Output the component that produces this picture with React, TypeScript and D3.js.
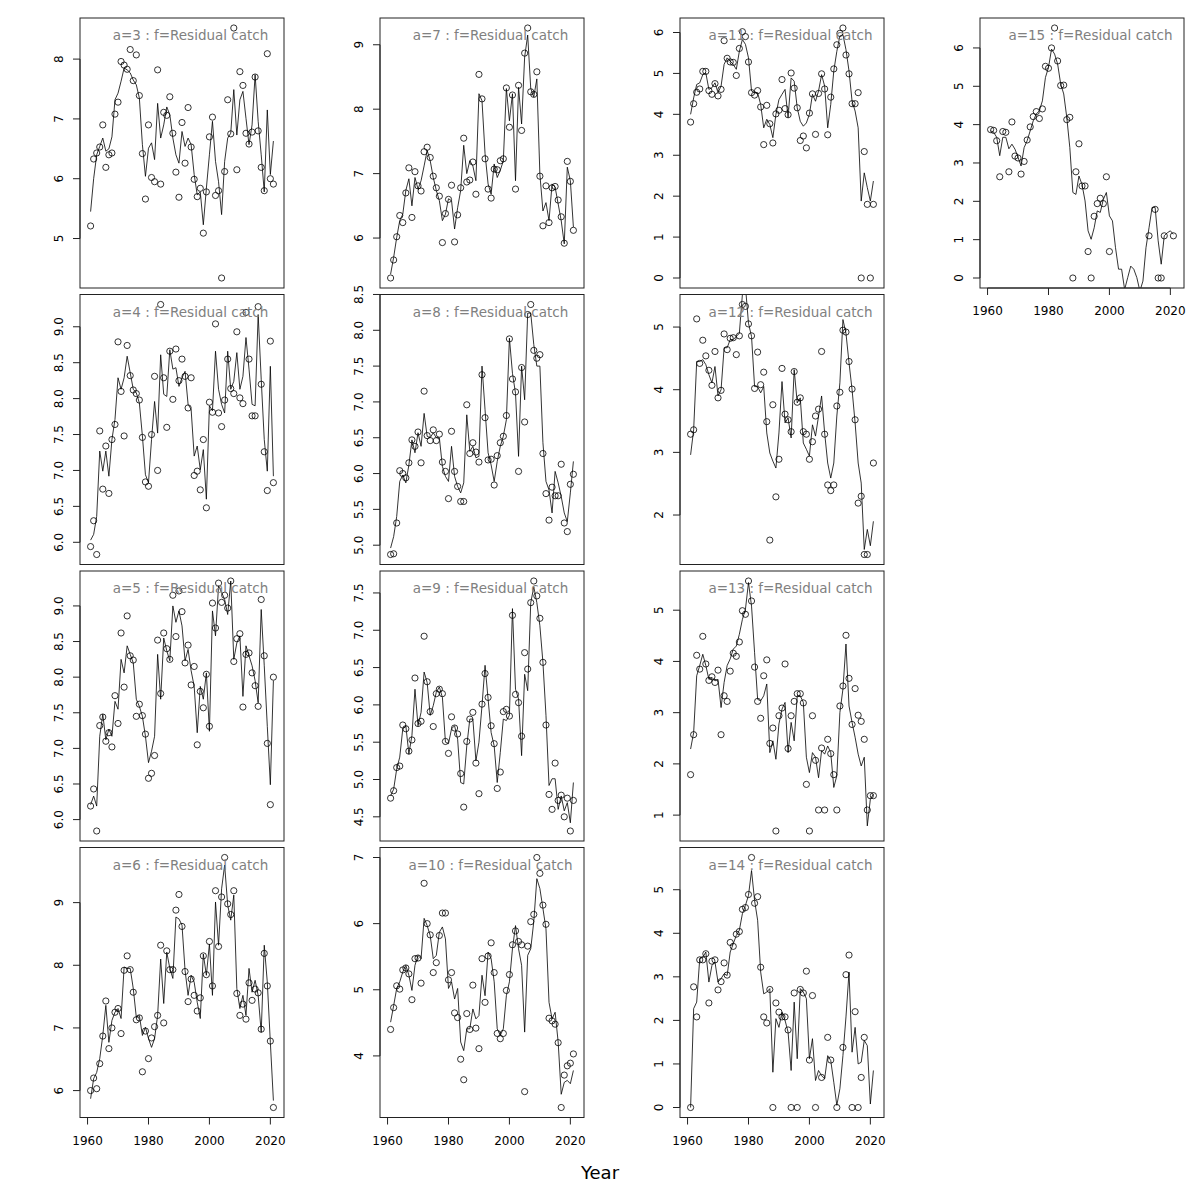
import * as d3 from "d3";

const YEARS: number[] = d3.range(1961, 2022);
const X_LIM: [number, number] = [1957.52, 2024.48];
const X_TICKS = [1960, 1980, 2000, 2020];

// observed residual catch (points) and fitted values (line) per age, 1961-2021
const obs3 = [5.21, 6.33, 6.43, 6.53, 6.9, 6.19, 6.4, 6.43, 7.08, 7.28,
  7.96, 7.9, 7.83, 8.16, 7.64, 8.07, 7.39, 6.42, 5.66, 6.9,
  6.02, 5.95, 7.82, 5.91, 7.11, 7.06, 7.37, 6.76, 6.11, 5.69,
  6.94, 6.26, 7.19, 6.53, 5.99, 5.7, 5.84, 5.09, 5.78, 6.7,
  7.03, 5.72, 5.8, 4.34, 6.12, 7.32, 6.75, 8.52, 6.15, 7.79,
  7.56, 6.76, 6.58, 6.78, 7.7, 6.8, 6.19, 5.8, 8.09, 6.0,
  5.91];
const fit3 = [5.45, 6.0, 6.4, 6.54, 6.68, 6.46, 6.5, 6.7, 7.32, 7.43,
  7.63, 7.85, 7.82, 7.77, 7.65, 7.57, 7.35, 6.57, 6.04, 6.51,
  6.6, 6.32, 7.26, 6.68, 6.9, 7.2, 7.07, 6.68, 6.4, 6.26,
  6.79, 6.54, 6.68, 6.57, 6.07, 5.73, 5.78, 5.23, 5.84, 6.4,
  6.96, 6.29, 5.95, 5.4, 6.29, 6.68, 6.76, 7.49, 6.73, 7.32,
  7.46, 7.01, 6.57, 6.9, 7.74, 6.96, 6.4, 5.78, 7.15, 6.07,
  6.63];

const obs4 = [5.94, 6.3, 5.83, 7.55, 6.74, 7.34, 6.68, 7.43, 7.64, 8.79,
  8.1, 7.48, 8.74, 8.32, 8.12, 8.07, 7.98, 7.46, 6.84, 6.78,
  7.5, 8.31, 7.0, 9.31, 8.29, 7.6, 8.66, 7.99, 8.69, 8.25,
  8.55, 8.31, 7.87, 8.29, 6.93, 6.99, 6.73, 7.43, 6.48, 7.95,
  7.81, 9.04, 7.8, 7.61, 7.98, 8.55, 8.14, 8.07, 8.93, 8.01,
  7.93, 9.2, 8.55, 7.76, 7.76, 9.28, 8.2, 7.26, 6.72, 8.8,
  6.83];
const fit4 = [6.03, 6.11, 6.36, 7.27, 6.99, 7.27, 6.92, 7.43, 7.71, 8.29,
  8.13, 8.29, 8.59, 8.36, 8.13, 8.08, 7.94, 7.48, 6.94, 6.83,
  7.43, 7.96, 7.52, 8.61, 8.06, 8.03, 8.68, 8.41, 8.43, 8.17,
  8.29, 8.38, 7.92, 7.85, 7.2, 7.34, 7.01, 7.29, 6.6, 7.9,
  7.83, 8.66, 8.13, 7.92, 7.8, 8.66, 8.13, 8.24, 8.64, 8.13,
  8.31, 8.85, 8.41, 7.92, 7.9, 9.17, 8.27, 7.43, 6.99, 8.45,
  6.92];

const obs5 = [6.19, 6.43, 5.84, 7.32, 7.44, 7.1, 7.22, 7.02, 7.74, 7.35,
  8.62, 7.86, 8.86, 8.3, 8.24, 7.45, 7.62, 7.46, 7.2, 6.58,
  6.65, 6.9, 8.52, 7.77, 8.62, 8.4, 8.25, 9.15, 8.57, 9.21,
  8.92, 8.2, 8.45, 7.89, 8.15, 7.05, 7.8, 7.57, 8.04, 7.31,
  9.04, 8.69, 9.32, 9.05, 9.15, 8.97, 9.35, 8.22, 8.54, 8.61,
  7.58, 8.32, 8.34, 8.06, 7.88, 7.59, 9.09, 8.3, 7.07, 6.21,
  8.0];
const fit5 = [6.21, 6.33, 6.19, 7.17, 7.48, 7.12, 7.27, 7.17, 7.66, 7.55,
  8.25, 8.06, 8.44, 8.32, 8.2, 7.69, 7.59, 7.45, 7.17, 6.8,
  6.96, 7.17, 8.32, 7.69, 8.55, 8.37, 8.23, 9.0, 8.77, 8.93,
  8.72, 8.23, 8.39, 8.09, 7.87, 7.22, 7.87, 7.69, 8.06, 7.24,
  8.93, 8.58, 9.28, 9.19, 9.09, 8.88, 9.35, 8.25, 8.48, 8.58,
  7.73, 8.44, 8.3, 8.16, 7.95, 7.64, 8.95, 8.16, 7.31, 6.49,
  7.95];

const obs6 = [6.0, 6.2, 6.03, 6.43, 6.87, 7.43, 6.67, 7.0, 7.25, 7.31,
  6.91, 7.92, 8.15, 7.93, 7.57, 7.13, 7.16, 6.3, 6.95, 6.51,
  6.84, 7.02, 7.2, 8.32, 7.08, 8.23, 7.93, 7.93, 8.88, 9.13,
  8.62, 7.9, 7.42, 7.78, 7.52, 7.27, 7.48, 8.15, 7.85, 8.38,
  7.67, 9.19, 8.3, 9.09, 9.72, 8.98, 8.81, 9.19, 7.55, 7.2,
  7.38, 7.14, 7.72, 7.44, 7.62, 7.56, 6.98, 8.19, 7.67, 6.79,
  5.73];
const fit6 = [5.87, 6.19, 6.29, 6.51, 6.88, 7.36, 6.77, 7.12, 7.25, 7.31,
  7.15, 7.97, 7.95, 7.95, 7.63, 7.17, 7.2, 6.88, 7.01, 6.83,
  6.69, 6.83, 7.2, 8.1, 7.39, 8.21, 7.95, 7.79, 8.77, 8.74,
  8.64, 7.92, 7.52, 7.84, 7.73, 7.41, 7.15, 8.18, 7.84, 8.34,
  7.52, 9.01, 8.32, 9.22, 9.6, 8.96, 8.72, 9.12, 7.63, 7.31,
  7.52, 7.2, 7.95, 7.57, 7.76, 7.52, 6.93, 8.32, 7.73, 6.77,
  5.84];

const obs7 = [5.38, 5.66, 6.02, 6.35, 6.24, 6.7, 7.09, 6.32, 7.03, 6.81,
  6.73, 7.34, 7.41, 7.25, 6.96, 6.78, 6.65, 5.93, 6.38, 6.6,
  6.82, 5.94, 6.36, 6.78, 7.55, 6.87, 6.9, 7.18, 6.68, 8.54,
  8.16, 7.23, 6.76, 6.62, 7.07, 7.06, 7.2, 7.23, 8.33, 7.72,
  8.22, 6.76, 8.37, 7.67, 8.87, 9.26, 8.27, 8.23, 8.58, 6.96,
  6.19, 6.81, 6.24, 6.78, 6.8, 6.59, 6.33, 5.92, 7.19, 6.88,
  6.12];
const fit7 = [5.44, 5.7, 6.01, 6.27, 6.37, 6.74, 6.92, 6.5, 6.94, 6.76,
  6.89, 7.12, 7.36, 7.2, 6.94, 6.74, 6.58, 6.27, 6.37, 6.61,
  6.58, 6.14, 6.47, 6.74, 7.44, 7.0, 7.2, 7.12, 6.89, 8.24,
  8.13, 7.31, 6.84, 6.68, 7.15, 6.94, 7.05, 7.2, 8.32, 7.82,
  8.24, 6.89, 8.34, 7.77, 8.81, 9.15, 8.32, 8.19, 8.47, 6.99,
  6.42, 6.55, 6.27, 6.84, 6.79, 6.53, 6.27, 5.91, 7.1, 6.89,
  6.17];

const obs8 = [4.87, 4.88, 5.31, 6.04, 6.0, 5.94, 6.15, 6.47, 6.38, 6.58,
  6.15, 7.15, 6.53, 6.46, 6.61, 6.46, 6.55, 6.16, 6.03, 5.65,
  6.59, 6.03, 5.82, 5.61, 5.61, 6.96, 6.28, 6.43, 6.3, 6.16,
  7.38, 6.78, 6.19, 6.2, 5.84, 6.25, 6.43, 6.52, 6.81, 7.88,
  7.32, 7.14, 6.03, 7.48, 6.72, 8.22, 8.36, 7.72, 7.61, 7.66,
  6.28, 5.72, 5.35, 5.81, 5.69, 5.69, 6.13, 5.31, 5.19, 5.85,
  5.99];
const fit8 = [4.96, 5.12, 5.4, 5.89, 5.98, 5.87, 6.12, 6.47, 6.29, 6.57,
  6.38, 6.84, 6.52, 6.5, 6.57, 6.5, 6.5, 6.1, 5.96, 5.89,
  6.38, 5.96, 5.82, 5.73, 5.87, 6.82, 6.31, 6.38, 6.22, 6.24,
  7.5, 6.89, 6.29, 6.12, 5.89, 6.17, 6.38, 6.52, 6.75, 7.89,
  7.4, 7.12, 6.24, 7.5, 7.03, 8.24, 8.24, 7.8, 7.5, 7.5,
  6.43, 5.89, 5.77, 5.45, 6.03, 5.87, 5.68, 5.45, 5.33, 5.73,
  6.17];

const obs9 = [4.75, 4.85, 5.16, 5.18, 5.73, 5.68, 5.38, 5.53, 6.36, 5.75,
  5.78, 6.92, 6.31, 5.91, 5.71, 6.15, 6.21, 6.15, 5.51, 5.35,
  5.84, 5.69, 5.61, 5.08, 4.63, 5.51, 5.81, 5.9, 5.22, 4.81,
  6.01, 6.42, 6.1, 5.72, 5.48, 4.88, 5.1, 5.91, 5.94, 5.85,
  7.2, 6.14, 6.03, 5.58, 6.7, 6.48, 7.37, 7.66, 7.46, 7.16,
  6.57, 5.73, 4.8, 4.6, 5.22, 4.72, 4.79, 4.5, 4.75, 4.31,
  4.72];
const fit9 = [4.78, 4.87, 5.14, 5.3, 5.68, 5.72, 5.34, 5.59, 6.21, 5.72,
  5.9, 6.44, 6.3, 5.86, 5.99, 6.17, 6.24, 6.1, 5.5, 5.48,
  5.68, 5.72, 5.54, 4.96, 4.94, 5.45, 5.81, 5.81, 5.25, 5.5,
  5.99, 6.53, 6.08, 5.63, 5.45, 4.96, 5.36, 5.81, 5.79, 5.86,
  7.29, 6.21, 6.08, 5.32, 6.41, 6.19, 7.37, 7.58, 7.37, 7.06,
  6.57, 5.86, 4.92, 5.01, 5.01, 4.6, 4.78, 4.58, 4.69, 4.42,
  4.96];

const obs10 = [4.4, 4.73, 5.06, 5.01, 5.3, 5.33, 5.24, 4.85, 5.47, 5.48,
  5.1, 6.61, 6.0, 5.83, 5.26, 5.41, 5.82, 6.16, 6.16, 5.15,
  5.26, 4.65, 4.58, 3.95, 3.64, 4.64, 4.4, 5.07, 4.42, 4.11,
  5.47, 4.81, 5.51, 5.71, 5.26, 4.34, 4.26, 4.34, 4.99, 5.23,
  5.68, 5.89, 5.73, 5.68, 3.46, 5.66, 6.03, 6.14, 7.0, 6.76,
  6.28, 5.99, 4.57, 4.53, 4.48, 4.2, 3.22, 3.71, 3.85, 3.89,
  4.03];
const fit10 = [4.51, 4.76, 5.02, 5.12, 5.27, 5.37, 5.22, 4.99, 5.37, 5.52,
  5.47, 6.08, 5.97, 5.82, 5.47, 5.52, 5.87, 5.95, 5.77, 5.02,
  5.12, 4.86, 5.02, 4.21, 4.08, 4.41, 4.41, 4.71, 4.56, 4.61,
  5.22, 4.91, 5.57, 5.47, 5.12, 4.41, 4.31, 4.41, 4.91, 5.12,
  5.62, 5.97, 5.62, 5.37, 4.36, 5.52, 5.62, 6.03, 6.68, 6.53,
  6.23, 5.92, 4.81, 4.56, 4.66, 4.21, 3.42, 3.6, 3.63, 3.58,
  3.78];

const obs11 = [3.81, 4.26, 4.54, 4.62, 5.05, 5.05, 4.58, 4.49, 4.75, 4.45,
  4.61, 5.8, 5.37, 5.28, 5.27, 4.95, 5.61, 6.02, 5.9, 5.28,
  4.53, 4.47, 4.58, 4.18, 3.26, 4.22, 3.77, 3.3, 4.01, 4.1,
  4.85, 4.14, 3.99, 5.01, 4.64, 4.16, 3.36, 3.47, 3.18, 4.03,
  4.5, 3.51, 4.51, 4.99, 4.62, 3.5, 4.42, 5.11, 5.7, 5.98,
  6.11, 5.45, 4.99, 4.26, 4.26, 4.53, 0.0, 3.09, 1.8, 0.0,
  1.8];
const fit11 = [4.0, 4.4, 4.73, 4.77, 4.97, 5.01, 4.61, 4.65, 4.77, 4.53,
  4.69, 5.22, 5.38, 5.3, 5.22, 5.1, 5.54, 5.83, 5.71, 5.38,
  4.57, 4.53, 4.53, 4.24, 3.67, 3.88, 3.75, 3.43, 4.0, 4.36,
  4.49, 4.61, 3.92, 4.89, 4.81, 4.16, 3.83, 3.71, 3.79, 4.0,
  4.49, 4.32, 4.57, 4.97, 4.69, 3.67, 4.24, 5.06, 5.54, 5.91,
  5.95, 5.58, 5.06, 4.32, 4.08, 3.67, 1.88, 2.57, 2.21, 1.88,
  2.37];

const obs12 = [3.29, 3.36, 5.13, 4.42, 4.79, 4.54, 4.31, 4.07, 4.61, 3.87,
  3.99, 4.89, 4.64, 4.82, 4.83, 4.56, 4.86, 5.36, 5.33, 5.05,
  4.86, 4.02, 4.6, 4.08, 4.28, 3.49, 1.6, 3.76, 2.29, 2.89,
  4.34, 3.61, 3.52, 3.33, 4.29, 3.8, 3.87, 3.33, 3.29, 2.89,
  3.17, 3.58, 3.69, 4.61, 3.29, 2.48, 2.39, 2.48, 3.74, 3.96,
  4.95, 4.92, 4.45, 4.01, 3.52, 2.19, 2.3, 1.37, 1.37, null,
  2.83];
const fit12 = [2.96, 3.36, 4.45, 4.45, 4.48, 4.4, 4.24, 4.11, 4.37, 3.9,
  4.0, 4.67, 4.67, 4.8, 4.8, 4.85, 4.9, 5.52, 5.65, 5.06,
  4.85, 4.05, 4.05, 3.95, 4.05, 3.31, 2.99, 2.86, 2.75, 3.31,
  4.13, 3.47, 3.55, 3.23, 4.32, 3.79, 3.87, 3.15, 3.05, 2.94,
  3.44, 3.26, 3.58, 3.9, 3.31, 2.83, 2.59, 2.83, 3.58, 4.11,
  5.12, 4.9, 4.43, 4.0, 3.47, 2.83, 2.51, 1.45, 1.77, 1.51,
  1.9];

const obs13 = [1.79, 2.57, 4.12, 3.85, 4.49, 3.95, 3.63, 3.7, 3.59, 3.83,
  2.57, 3.33, 3.22, 3.81, 4.16, 4.1, 4.38, 4.99, 4.92, 5.57,
  5.18, 3.89, 3.22, 2.89, 3.72, 4.03, 2.4, 2.7, 0.69, 2.94,
  3.09, 3.95, 2.3, 2.94, 3.22, 3.37, 3.37, 3.19, 1.6, 0.69,
  2.94, 2.07, 1.1, 2.31, 1.1, 2.48, 2.2, 1.79, 1.1, 3.13,
  3.52, 4.51, 3.67, 2.77, 3.47, 2.95, 2.83, 2.48, 1.1, 1.38,
  1.38];
const fit13 = [2.29, 2.61, 3.72, 3.92, 4.14, 3.92, 3.65, 3.69, 3.62, 3.65,
  3.1, 3.59, 3.92, 4.05, 4.24, 4.3, 4.53, 4.82, 5.02, 5.54,
  5.08, 4.17, 3.26, 3.23, 3.33, 3.56, 2.22, 2.45, 2.09, 2.78,
  3.07, 3.2, 2.22, 2.81, 2.45, 3.33, 3.33, 3.2, 2.13, 1.83,
  2.22, 2.13, 1.73, 2.26, 2.19, 2.35, 2.22, 1.54, 1.77, 3.0,
  3.46, 4.34, 3.13, 2.81, 2.52, 2.19, 1.96, 2.13, 0.79, 1.31,
  1.41];

const obs14 = [0.0, 2.77, 2.08, 3.39, 3.39, 3.53, 2.4, 3.36, 3.39, 2.7,
  2.89, 3.32, 3.04, 3.79, 3.7, 3.98, 4.04, 4.55, 4.59, 4.89,
  5.74, 4.69, 4.84, 3.22, 2.08, 1.94, 2.71, 0.0, 2.4, 2.19,
  2.08, 2.08, 1.78, 0.0, 2.63, 0.0, 2.71, 2.63, 3.13, 1.09,
  2.57, 0.0, null, 0.69, null, 1.61, 1.09, null, 0.0, null,
  1.38, 3.05, 3.5, 0.0, 2.2, 0.0, 0.69, 1.61, null, null,
  null];
const fit14 = [0.0, 2.27, 2.42, 3.42, 3.45, 3.57, 2.88, 3.26, 3.34, 2.88,
  2.96, 3.07, 3.03, 3.57, 3.76, 3.95, 4.07, 4.45, 4.64, 4.87,
  5.44, 4.75, 4.3, 3.11, 2.61, 2.65, 2.73, 0.81, 2.04, 1.84,
  2.19, 2.0, 1.73, 0.85, 2.42, 1.12, 2.73, 2.65, 2.5, 1.12,
  1.58, 0.62, 0.85, 0.73, 0.66, 1.19, 1.08, 0.58, 0.05, 0.43,
  1.19, 2.08, 3.11, 1.27, 1.84, 1.0, 1.04, 1.54, 1.42, 0.08,
  0.85];

const obs15 = [3.87, 3.85, 3.58, 2.64, 3.82, 3.8, 2.77, 4.07, 3.18, 3.13,
  2.71, 3.04, 3.6, 3.94, 4.21, 4.34, 4.16, 4.41, 5.52, 5.47,
  6.0, 6.52, 5.66, 5.02, 5.03, 4.13, 4.19, 0.0, 2.77, 3.5,
  2.4, 2.4, 0.69, 0.0, 1.61, 1.94, 2.08, 1.94, 2.64, 0.69,
  null, null, null, null, null, null, null, null, null, null,
  null, null, 1.1, null, 1.79, 0.0, 0.0, 1.1, null, null,
  1.1];
const fit15 = [3.84, 3.8, 3.67, 3.19, 3.67, 3.67, 3.37, 3.49, 3.36, 3.15,
  2.92, 3.4, 3.58, 3.84, 4.1, 4.28, 4.36, 4.62, 5.23, 5.49,
  5.97, 5.84, 5.58, 5.06, 4.8, 4.19, 3.4, 2.23, 2.18, 2.66,
  2.44, 2.01, 1.23, 1.01, 1.31, 1.75, 1.71, 2.05, 2.23, 1.62,
  1.49, 0.79, 0.23, 0.23, -0.3, 0.01, 0.31, 0.23, 0.01, -0.34,
  -0.08, 0.79, 1.31, 1.84, 1.84, 0.97, 0.36, 1.1, 1.18, 1.23,
  1.14];

const ticksWhole4 = [4, 5, 6, 7];
const ticks5to8 = [5, 6, 7, 8];
const ticks6to9 = [6, 7, 8, 9];
const ticksHalf6 = [6, 6.5, 7, 7.5, 8, 8.5, 9];
const ticksHalf5 = [5, 5.5, 6, 6.5, 7, 7.5, 8, 8.5];
const ticksHalf45 = [4.5, 5, 5.5, 6, 6.5, 7, 7.5];
const ticks0to6 = [0, 1, 2, 3, 4, 5, 6];
const ticks2to5 = [2, 3, 4, 5];
const ticks1to5 = [1, 2, 3, 4, 5];
const ticks0to5 = [0, 1, 2, 3, 4, 5];

type Panel = {
  age: number;
  col: number;
  row: number;
  obs: (number | null)[];
  fit: number[];
  ticks: number[];
  dec: number;
};

const PANELS: Panel[] = [
  { age: 3, col: 0, row: 0, obs: obs3, fit: fit3, ticks: ticks5to8, dec: 0 },
  { age: 4, col: 0, row: 1, obs: obs4, fit: fit4, ticks: ticksHalf6, dec: 1 },
  { age: 5, col: 0, row: 2, obs: obs5, fit: fit5, ticks: ticksHalf6, dec: 1 },
  { age: 6, col: 0, row: 3, obs: obs6, fit: fit6, ticks: ticks6to9, dec: 0 },
  { age: 7, col: 1, row: 0, obs: obs7, fit: fit7, ticks: ticks6to9, dec: 0 },
  { age: 8, col: 1, row: 1, obs: obs8, fit: fit8, ticks: ticksHalf5, dec: 1 },
  { age: 9, col: 1, row: 2, obs: obs9, fit: fit9, ticks: ticksHalf45, dec: 1 },
  { age: 10, col: 1, row: 3, obs: obs10, fit: fit10, ticks: ticksWhole4, dec: 0 },
  { age: 11, col: 2, row: 0, obs: obs11, fit: fit11, ticks: ticks0to6, dec: 0 },
  { age: 12, col: 2, row: 1, obs: obs12, fit: fit12, ticks: ticks2to5, dec: 0 },
  { age: 13, col: 2, row: 2, obs: obs13, fit: fit13, ticks: ticks1to5, dec: 0 },
  { age: 14, col: 2, row: 3, obs: obs14, fit: fit14, ticks: ticks0to5, dec: 0 },
  { age: 15, col: 3, row: 0, obs: obs15, fit: fit15, ticks: ticks0to6, dec: 0 },
];

const BOX_W = 204;
const BOX_H = 270;
const FONT = "'DejaVu Sans', 'Liberation Sans', sans-serif";

function PanelPlot({ p }: { p: Panel }) {
  const left = 80 + 300 * p.col;
  const top = 18 + 276.5 * p.row;
  const bottom = top + BOX_H;

  const x = d3.scaleLinear().domain(X_LIM).range([left, left + BOX_W]);
  const vals = p.obs.filter((v): v is number => v != null);
  const [lo, hi] = d3.extent(vals) as [number, number];
  const pad = (hi - lo) * 0.04;
  const y = d3.scaleLinear().domain([lo - pad, hi + pad]).range([bottom, top]);

  const line = d3
    .line<number>()
    .x((_, i) => x(YEARS[i]))
    .y((v) => y(v));

  const fmt = d3.format(p.dec ? ".1f" : "d");
  const clipId = `clip-${p.age}`;
  const showX = p.row === 3 || p.age === 15;
  const yt = p.ticks;

  return (
    <g>
      <defs>
        <clipPath id={clipId}>
          <rect x={left} y={top} width={BOX_W} height={BOX_H} />
        </clipPath>
      </defs>

      <g clipPath={`url(#${clipId})`}>
        <path d={line(p.fit) ?? ""} fill="none" stroke="#000" strokeWidth={0.8} />
        {p.obs.map((v, i) =>
          v == null ? null : (
            <circle key={i} cx={x(YEARS[i])} cy={y(v)} r={3.1} fill="none" stroke="#000" strokeWidth={0.8} />
          )
        )}
      </g>

      <text
        x={left + BOX_W / 2 + 8.5}
        y={top + 22}
        textAnchor="middle"
        fontSize={13.5}
        fill="#808080"
      >
        {`a=${p.age} : f=Residual catch`}
      </text>

      <rect x={left} y={top} width={BOX_W} height={BOX_H} fill="none" stroke="#222" strokeWidth={1} />

      {/* y axis */}
      <line x1={left} x2={left} y1={y(yt[0])} y2={y(yt[yt.length - 1])} stroke="#222" />
      {yt.map((t) => (
        <g key={t}>
          <line x1={left - 7} x2={left} y1={y(t)} y2={y(t)} stroke="#222" />
          <text
            transform={`translate(${left - 17.5},${y(t)}) rotate(-90)`}
            textAnchor="middle"
            fontSize={12}
            fill="#000"
          >
            {fmt(t)}
          </text>
        </g>
      ))}

      {showX && (
        <g>
          <line x1={x(X_TICKS[0])} x2={x(X_TICKS[X_TICKS.length - 1])} y1={bottom} y2={bottom} stroke="#222" />
          {X_TICKS.map((t) => (
            <g key={t}>
              <line x1={x(t)} x2={x(t)} y1={bottom} y2={bottom + 7} stroke="#222" />
              <text x={x(t)} y={bottom + 27} textAnchor="middle" fontSize={12} fill="#000">
                {t}
              </text>
            </g>
          ))}
        </g>
      )}
    </g>
  );
}

export default function App() {
  return (
    <svg
      width={1200}
      height={1200}
      viewBox="0 0 1200 1200"
      style={{ position: "absolute", left: 0, top: 0, background: "#fff" }}
      fontFamily={FONT}
    >
      {PANELS.map((p) => (
        <PanelPlot key={p.age} p={p} />
      ))}
      <text x={600} y={1179} textAnchor="middle" fontSize={18} fill="#000">
        Year
      </text>
    </svg>
  );
}
